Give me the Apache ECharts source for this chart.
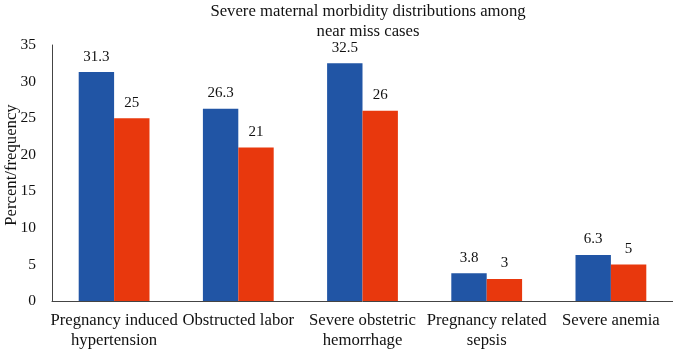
<!DOCTYPE html>
<html>
<head>
<meta charset="utf-8">
<script src="https://cdn.jsdelivr.net/npm/echarts@6/dist/echarts.min.js"></script>
<style>
  html, body { margin: 0; padding: 0; background: #fff; }
  #chart { width: 673px; height: 350px; }
</style>
</head>
<body>
<div id="chart"></div>
<script>
// data
const categories = [
    'Pregnancy induced\nhypertension',
    'Obstructed labor',
    'Severe obstetric\nhemorrhage',
    'Pregnancy related\nsepsis',
    'Severe anemia'
];
const percentValues = [31.3, 26.3, 32.5, 3.8, 6.3];
const frequencyValues = [25, 21, 26, 3, 5];
const yTicks = [0, 5, 10, 15, 20, 25, 30, 35];

const serif = '"Liberation Serif", "DejaVu Serif", serif';

const chart = echarts.init(document.getElementById('chart'));
const labelStyle = {
    show: true,
    position: 'top',
    distance: 8,
    color: '#111',
    fontFamily: serif,
    fontSize: 15
};

chart.setOption({
    animation: false,
    title: {
        text: 'Severe maternal morbidity distributions among\nnear miss cases',
        left: 363,
        top: -3,
        textAlign: 'center',
        textStyle: {
            fontFamily: serif,
            fontSize: 16.7,
            fontWeight: 'normal',
            color: '#111',
            lineHeight: 20
        }
    },
    grid: { left: 52, right: 0, top: 45, bottom: 49, outerBoundsMode: 'none' },
    xAxis: {
        type: 'category',
        data: categories,
        axisLine: { lineStyle: { color: '#444', width: 1 } },
        axisTick: { show: false },
        axisLabel: {
            interval: 0,
            margin: 10,
            color: '#111',
            fontFamily: serif,
            fontSize: 16.7,
            lineHeight: 20
        }
    },
    yAxis: {
        type: 'value',
        min: yTicks[0],
        max: yTicks[yTicks.length - 1],
        interval: 5,
        name: 'Percent/frequency',
        nameLocation: 'middle',
        nameGap: 32,
        nameMoveOverlap: false,
        nameTextStyle: {
            fontFamily: serif,
            fontSize: 16.7,
            color: '#111',
            padding: [0, 0, 0, 16]
        },
        axisLine: { show: true, lineStyle: { color: '#444', width: 1 } },
        axisTick: { show: false },
        splitLine: { show: false },
        axisLabel: {
            margin: 16,
            color: '#111',
            fontFamily: serif,
            fontSize: 15.5
        }
    },
    series: [
        {
            name: 'Percent',
            type: 'bar',
            data: percentValues,
            barWidth: '28.5%',
            barGap: '0%',
            itemStyle: { color: '#2155a5' },
            label: labelStyle
        },
        {
            name: 'Frequency',
            type: 'bar',
            data: frequencyValues,
            barWidth: '28.5%',
            itemStyle: { color: '#e8380d' },
            label: labelStyle
        }
    ]
});
window.addEventListener('resize', () => chart.resize());
</script>
</body>
</html>
